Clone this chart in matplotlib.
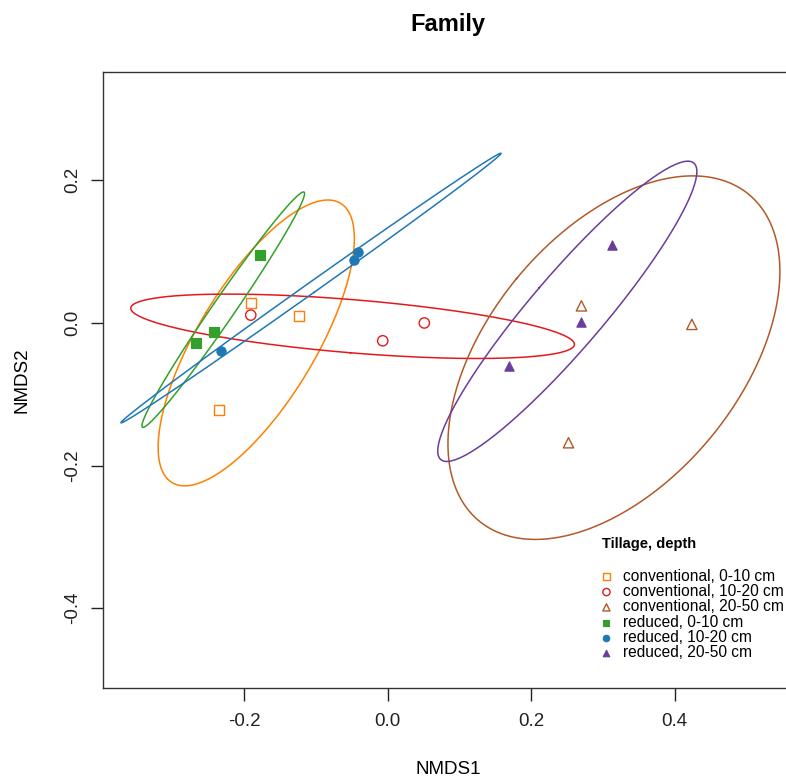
import matplotlib
matplotlib.use("Agg")
import matplotlib.pyplot as plt
import numpy as np

plt.rcParams['font.family'] = ['Liberation Sans', 'DejaVu Sans']

# NMDS scores
groups = ["conventional, 0-10 cm", "conventional, 10-20 cm", "conventional, 20-50 cm",
          "reduced, 0-10 cm", "reduced, 10-20 cm", "reduced, 20-50 cm"]
conv_0_10_x = [-0.191, -0.124, -0.235]
conv_0_10_y = [0.028, 0.010, -0.122]
conv_10_20_x = [-0.191, -0.007, 0.051]
conv_10_20_y = [0.011, -0.025, 0.000]
conv_20_50_x = [0.270, 0.424, 0.252]
conv_20_50_y = [0.024, -0.002, -0.168]
red_0_10_x = [-0.178, -0.242, -0.268]
red_0_10_y = [0.096, -0.012, -0.028]
red_10_20_x = [-0.232, -0.042, -0.047]
red_10_20_y = [-0.040, 0.099, 0.088]
red_20_50_x = [0.313, 0.269, 0.169]
red_20_50_y = [0.109, 0.001, -0.061]

xs = [conv_0_10_x, conv_10_20_x, conv_20_50_x, red_0_10_x, red_10_20_x, red_20_50_x]
ys = [conv_0_10_y, conv_10_20_y, conv_20_50_y, red_0_10_y, red_10_20_y, red_20_50_y]
colors = ["#FF7F00", "#E31A1C", "#B15928", "#33A02C", "#1F78B4", "#6A3D9A"]
markers = ["s", "o", "^", "s", "o", "^"]
filled = [False, False, False, True, True, True]


def sd_ellipse(x, y, conf_scale=np.sqrt(5.991), n=200):
    # ordiellipse(kind="sd", conf=0.95) style
    pts = np.column_stack([x, y])
    c = pts.mean(axis=0)
    cov = np.cov(pts, rowvar=False)
    vals, vecs = np.linalg.eigh(cov)
    vals = np.clip(vals, 0, None)
    t = np.linspace(0, 2 * np.pi, n)
    circ = np.vstack([np.cos(t), np.sin(t)])
    e = vecs @ (np.sqrt(vals)[:, None] * circ) * conf_scale
    return c[0] + e[0], c[1] + e[1]


fig = plt.figure(figsize=(7.86, 7.78), dpi=100)
ax = fig.add_axes([103 / 786, 1 - 688 / 778, 690 / 786, 616 / 778])

for i in range(len(groups)):
    ex, ey = sd_ellipse(xs[i], ys[i])
    ax.plot(ex, ey, '-', color=colors[i], lw=1.1)

for i in range(len(groups)):
    if filled[i]:
        ax.scatter(xs[i], ys[i], marker=markers[i], s=45, color=colors[i],
                   edgecolors=colors[i], linewidths=0.8, label=groups[i], zorder=3)
    else:
        ax.scatter(xs[i], ys[i], marker=markers[i], s=55, facecolors='none',
                   edgecolors=colors[i], linewidths=1.0, label=groups[i], zorder=3)

ax.set_xlim(-0.397, 0.565)
ax.set_ylim(-0.512, 0.352)
ax.set_xticks([-0.2, 0.0, 0.2, 0.4])
ax.set_yticks([-0.4, -0.2, 0.0, 0.2])
ax.set_xticklabels(["-0.2", "0.0", "0.2", "0.4"])
ax.set_yticklabels(["-0.4", "-0.2", "0.0", "0.2"], rotation=90, va='center')
ax.tick_params(direction='out', length=9, width=1, labelsize=13.5, pad=9, colors='#222222')
ax.tick_params(axis='y', pad=7)
for s in ax.spines.values():
    s.set_linewidth(1.0)
    s.set_color('#333333')

ax.set_xlabel("NMDS1", fontsize=13.5, labelpad=22)
ax.set_ylabel("NMDS2", fontsize=13.5, labelpad=24)
fig.text(448 / 786, 1 - 24 / 778, "Family", ha='center', va='center',
         fontsize=17, fontweight='bold')

leg = ax.legend(loc='upper left', bbox_to_anchor=(594 / 786, 1 - 529 / 778),
                bbox_transform=fig.transFigure, frameon=False, fontsize=11.2,
                markerscale=0.7, handletextpad=0.75, handlelength=0.6,
                labelspacing=0.02, borderpad=0, title="Tillage, depth",
                title_fontproperties={'weight': 'bold', 'size': 10.5}, alignment='left')
leg._legend_box.sep = 13

fig.savefig("out.png", dpi=100)
